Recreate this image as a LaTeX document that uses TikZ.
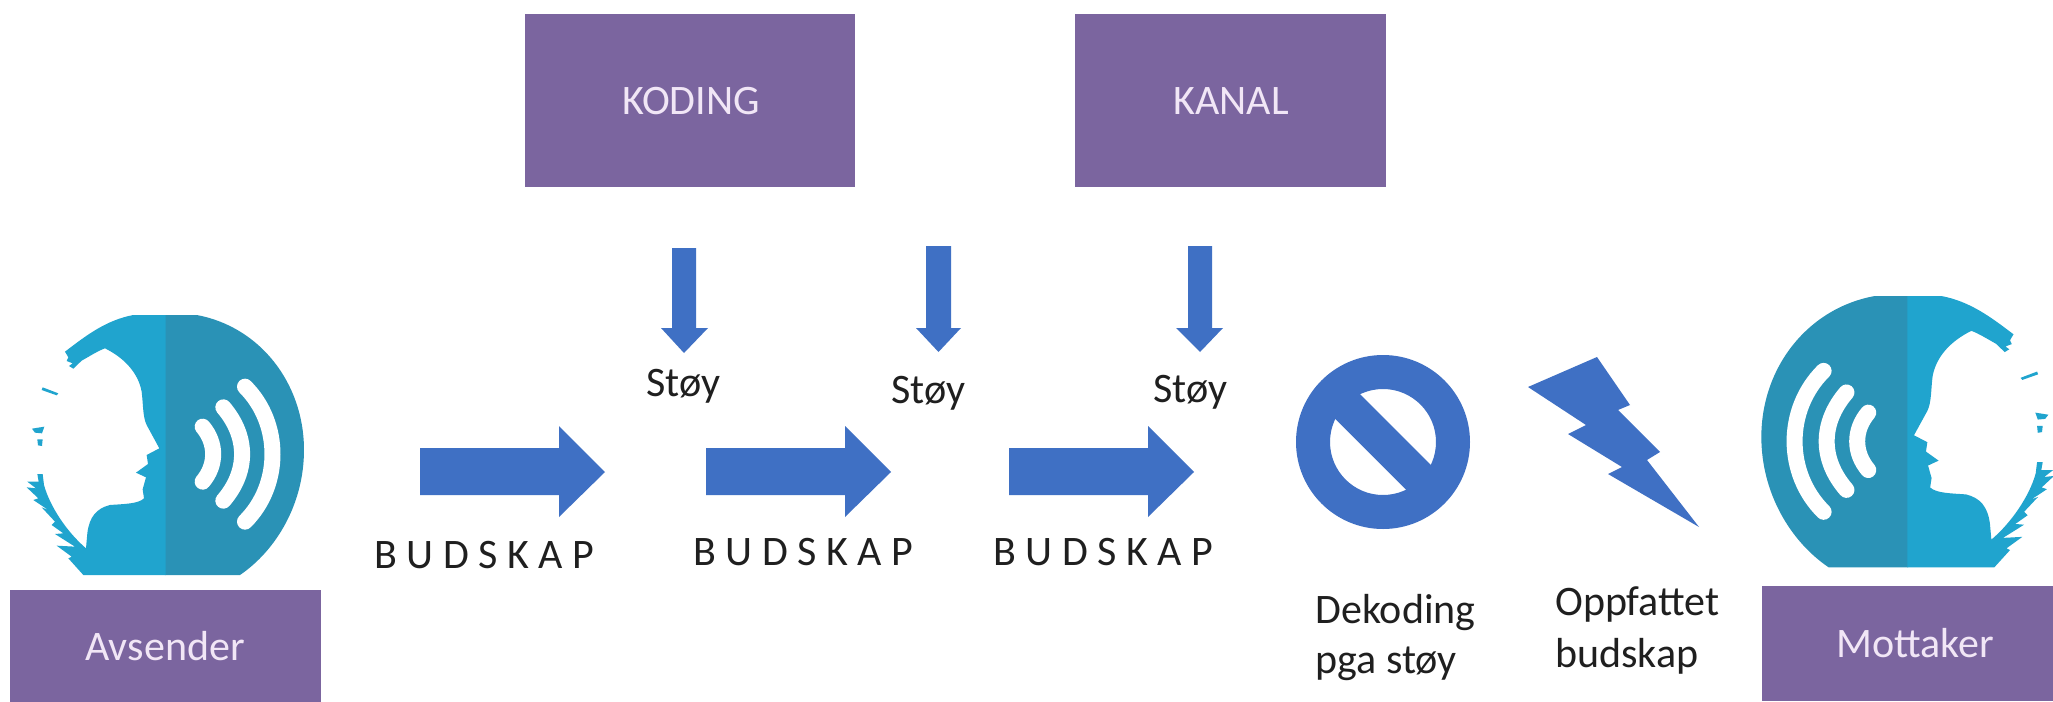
\documentclass[tikz,border=0pt]{standalone}
\usepackage{fontspec}
\setmainfont{Carlito}
\definecolor{boxpurple}{HTML}{7B659F}
\definecolor{boxtext}{HTML}{F1E6F6}
\definecolor{arrowblue}{HTML}{3F70C4}
\definecolor{headdark}{HTML}{2A92B6}
\definecolor{headlight}{HTML}{20A4CE}
\definecolor{inktext}{HTML}{1F1F1F}
\tikzset{
  boxshape/.style={fill=boxpurple,draw=none},
  boxlabel/.style={text=boxtext,font=\fontsize{21}{25}\selectfont,inner sep=0pt},
  inklabel/.style={text=inktext,font=\fontsize{21}{25}\selectfont,inner sep=0pt,anchor=base west},
  blueshape/.style={fill=arrowblue,draw=none},
  soundarc/.style={draw=white,line width=8pt,line cap=round},
}
\newcommand{\headicon}{%
  \fill[headdark] (495,105) -- (590,105) .. controls (780,140) and (912,310) .. (912,510)
    .. controls (912,670) and (830,810) .. (720,885) -- (495,885) -- cycle;
  \fill[headlight] (497,105) -- (400,105) .. controls (320,120) and (260,165) .. (195,215)
    -- (205,232) -- (200,243) -- (218,250) -- (207,258) -- (220,266) -- (245,242)
    .. controls (270,228) and (295,212) .. (315,205)
    .. controls (375,235) and (415,280) .. (425,335)
    .. controls (430,375) and (428,410) .. (440,435)
    -- (478,505) -- (440,525) -- (444,552) -- (408,578) -- (438,592)
    -- (428,628) -- (432,655) .. controls (415,672) and (370,672) .. (330,675)
    .. controls (290,685) and (268,710) .. (262,760) -- (258,805)
    .. controls (200,755) and (150,680) .. (132,615) -- (128,582) -- (112,582) -- (116,605)
    -- (82,605) -- (108,625) -- (80,622) -- (115,655) -- (100,660) -- (145,690)
    -- (125,682) -- (165,725) -- (155,735) -- (190,760) -- (165,762) -- (225,800)
    -- (170,797) -- (215,830) -- (205,835) -- (250,885) -- (497,885) -- cycle;
  \fill[headlight] (128,322) -- (175,340) -- (170,346) -- (125,330) -- cycle;
  \fill[headlight] (96,446) -- (133,440) -- (126,460) -- (105,458) -- cycle;
  \fill[headlight] (112,478) -- (128,478) -- (126,498) -- (114,496) -- cycle;
  \draw[soundarc] (608,440) .. controls (650,490) and (650,555) .. (608,605);
  \draw[soundarc] (670,382) .. controls (745,470) and (745,575) .. (670,662);
  \draw[soundarc] (735,320) .. controls (845,430) and (845,615) .. (735,725);
}
\begin{document}
\begin{tikzpicture}[x=0.5pt,y=-0.5pt]
\useasboundingbox (0,0) rectangle (2053,702);
\fill[white] (0,0) rectangle (2053,702);

% top boxes
\path[boxshape] (525,14) rectangle (855,187);
\node[boxlabel] (koding) at (691,101) {KODING};
\path[boxshape] (1075,14) rectangle (1386,187);
\node[boxlabel] (kanal) at (1231,101) {KANAL};

% bottom boxes
\path[boxshape] (10,590) rectangle (321,702);
\node[boxlabel,anchor=base] (avsender) at (165,660) {Avsender};
\path[boxshape] (1762,586) rectangle (2053,701);
\node[boxlabel,anchor=base] (mottaker) at (1915,657) {Mottaker};

% down arrows
\path[blueshape] (672,248) -- (696,248) -- (696,328) -- (708,328) -- (684,353) -- (661,328) -- (672,328) -- cycle;
\path[blueshape] (926,246) -- (951,246) -- (951,328) -- (961,328) -- (938.5,352) -- (916,328) -- (926,328) -- cycle;
\path[blueshape] (1188,246) -- (1212,246) -- (1212,328) -- (1223,328) -- (1200,352) -- (1176,328) -- (1188,328) -- cycle;

% right arrows
\path[blueshape] (420,448) -- (559,448) -- (559,426) -- (605,472) -- (559,517) -- (559,495) -- (420,495) -- cycle;
\path[blueshape] (706,448) -- (845,448) -- (845,426) -- (891,472) -- (845,517) -- (845,495) -- (706,495) -- cycle;
\path[blueshape] (1009,448) -- (1148,448) -- (1148,426) -- (1194,472) -- (1148,517) -- (1148,495) -- (1009,495) -- cycle;

% labels
\node[inklabel] (stoy1) at (646,396) {Støy};
\node[inklabel] (stoy2) at (891,403) {Støy};
\node[inklabel] (stoy3) at (1153,402) {Støy};
\node[inklabel] (bud1) at (374,568) {B U D S K A P};
\node[inklabel] (bud2) at (693,565) {B U D S K A P};
\node[inklabel] (bud3) at (993,565) {B U D S K A P};
\node[inklabel] (dek1) at (1315,623) {Dekoding};
\node[inklabel] (dek2) at (1315,673) {pga støy};
\node[inklabel] (opp1) at (1555,615) {Oppfattet};
\node[inklabel] (opp2) at (1555,667) {budskap};

% prohibition sign
\path[blueshape,even odd rule] (1383,442) circle [radius=87] (1383,442) circle [radius=53];
\begin{scope}
  \clip (1383,442) circle [radius=60];
  \draw[arrowblue,line width=17.5pt] (1323,382) -- (1443,502);
\end{scope}

% lightning bolt
\path[blueshape] (1528,387) -- (1597,357) -- (1630,405) -- (1618,410) -- (1660,452)
  -- (1647,460) -- (1699,527) -- (1608,474) -- (1622,467) -- (1568,434) -- (1586,425) -- cycle;

% speaking heads
\begin{scope}[shift={(0,280)},xscale=0.33333,yscale=0.33333]
  \headicon
\end{scope}
\begin{scope}[shift={(2082.1,259.5)},xscale=-0.3517,yscale=0.348]
  \headicon
\end{scope}
\end{tikzpicture}
\end{document}
